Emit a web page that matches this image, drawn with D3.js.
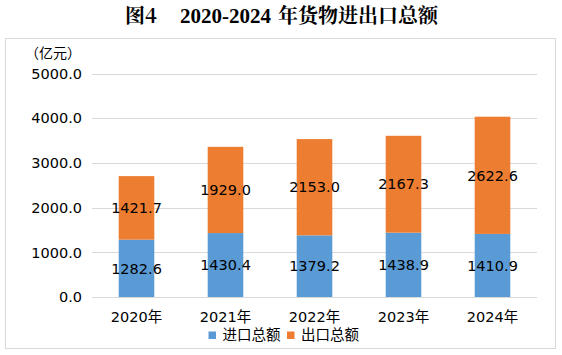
<!DOCTYPE html>
<html>
<head>
<meta charset="utf-8">
<script src="https://cdn.jsdelivr.net/npm/d3@7"></script>
<style>
  html, body { margin: 0; padding: 0; background: #fff; }
  svg { display: block; }
</style>
</head>
<body>
<svg id="chart" width="562" height="355"></svg>
<script>
const categories = ["2020年", "2021年", "2022年", "2023年", "2024年"];
const importValues = [1282.6, 1430.4, 1379.2, 1438.9, 1410.9];
const exportValues = [1421.7, 1929.0, 2153.0, 2167.3, 2622.6];
const seriesNames = ["进口总额", "出口总额"];
const seriesColors = ["#5B9BD5", "#ED7D31"];
const yTicks = [0, 1000, 2000, 3000, 4000, 5000];
const titleParts = ["图4", "2020-2024", "年货物进出口总额"];
const unitLabel = "（亿元）";

const svg = d3.select("#chart");
const numFont = "'DejaVu Sans', 'Noto Sans CJK SC', sans-serif";
const cjkFont = "'Noto Sans CJK SC', 'DejaVu Sans', sans-serif";

// frame
svg.append("rect")
  .attr("x", 5.5).attr("y", 38.5)
  .attr("width", 550).attr("height", 310)
  .attr("fill", "#fff")
  .attr("stroke", "#d9d9d9").attr("stroke-width", 1);

// title
const title = svg.append("text")
  .attr("y", 23)
  .attr("font-weight", "bold")
  .attr("font-size", 20)
  .attr("fill", "#000")
  .attr("font-family", "'Noto Serif CJK SC', 'Liberation Serif', 'Noto Sans CJK SC', serif");
title.append("tspan").attr("x", 125).text(titleParts[0]);
title.append("tspan").attr("x", 180).attr("font-size", 21).attr("font-family", "'Liberation Serif', serif").text(titleParts[1]);
title.append("tspan").attr("x", 278).text(titleParts[2]);

const x = d3.scaleBand()
  .domain(categories)
  .range([92, 537])
  .paddingInner(0.6)
  .paddingOuter(0.3);

const y = d3.scaleLinear()
  .domain([0, 5000])
  .range([297, 73.5]);

// gridlines
svg.append("g")
  .selectAll("line")
  .data(yTicks)
  .join("line")
  .attr("x1", 92).attr("x2", 537)
  .attr("y1", d => Math.round(y(d)) + 0.5)
  .attr("y2", d => Math.round(y(d)) + 0.5)
  .attr("stroke", "#d9d9d9").attr("stroke-width", 1);

// y tick labels
svg.append("g")
  .selectAll("text")
  .data(yTicks)
  .join("text")
  .attr("x", 82)
  .attr("y", d => y(d))
  .attr("dy", "0.36em")
  .attr("text-anchor", "end")
  .attr("font-family", numFont)
  .attr("font-size", 14.5)
  .attr("fill", "#000")
  .text(d => d3.format(".1f")(d));

// unit
svg.append("text")
  .attr("x", 25).attr("y", 53)
  .attr("dy", "0.36em")
  .attr("font-family", cjkFont)
  .attr("font-size", 14)
  .attr("fill", "#000")
  .text(unitLabel);

// stacked data
const rows = categories.map((c, i) => ({ cat: c, imp: importValues[i], exp: exportValues[i] }));
const stack = d3.stack().keys(["imp", "exp"])(rows);

const layers = svg.append("g")
  .selectAll("g")
  .data(stack)
  .join("g")
  .attr("fill", (d, i) => seriesColors[i]);

layers.selectAll("rect")
  .data(d => d)
  .join("rect")
  .attr("x", d => x(d.data.cat))
  .attr("width", x.bandwidth())
  .attr("y", d => y(d[1]))
  .attr("height", d => y(d[0]) - y(d[1]));

// data labels
const labels = svg.append("g");
stack.forEach(layer => {
  labels.selectAll(null)
    .data(layer)
    .join("text")
    .attr("x", d => x(d.data.cat) + x.bandwidth() / 2)
    .attr("y", d => (y(d[0]) + y(d[1])) / 2)
    .attr("dy", "0.36em")
    .attr("text-anchor", "middle")
    .attr("font-family", numFont)
    .attr("font-size", 14.5)
    .attr("fill", "#000")
    .text(d => d3.format(".1f")(d[1] - d[0]));
});

// x labels
svg.append("g")
  .selectAll("text")
  .data(categories)
  .join("text")
  .attr("x", d => x(d) + x.bandwidth() / 2)
  .attr("y", 316.5)
  .attr("dy", "0.36em")
  .attr("text-anchor", "middle")
  .attr("font-family", numFont)
  .attr("font-size", 14.5)
  .attr("fill", "#000")
  .text(d => d);

// legend
const legendX = [208.5, 287];
const legend = svg.append("g");
seriesNames.forEach((name, i) => {
  legend.append("rect")
    .attr("x", legendX[i]).attr("y", 331.5)
    .attr("width", 7.5).attr("height", 7.5)
    .attr("fill", seriesColors[i]);
  legend.append("text")
    .attr("x", legendX[i] + 14).attr("y", 335)
    .attr("dy", "0.36em")
    .attr("font-family", cjkFont)
    .attr("font-size", 14.5)
    .attr("fill", "#000")
    .text(name);
});
</script>
</body>
</html>
